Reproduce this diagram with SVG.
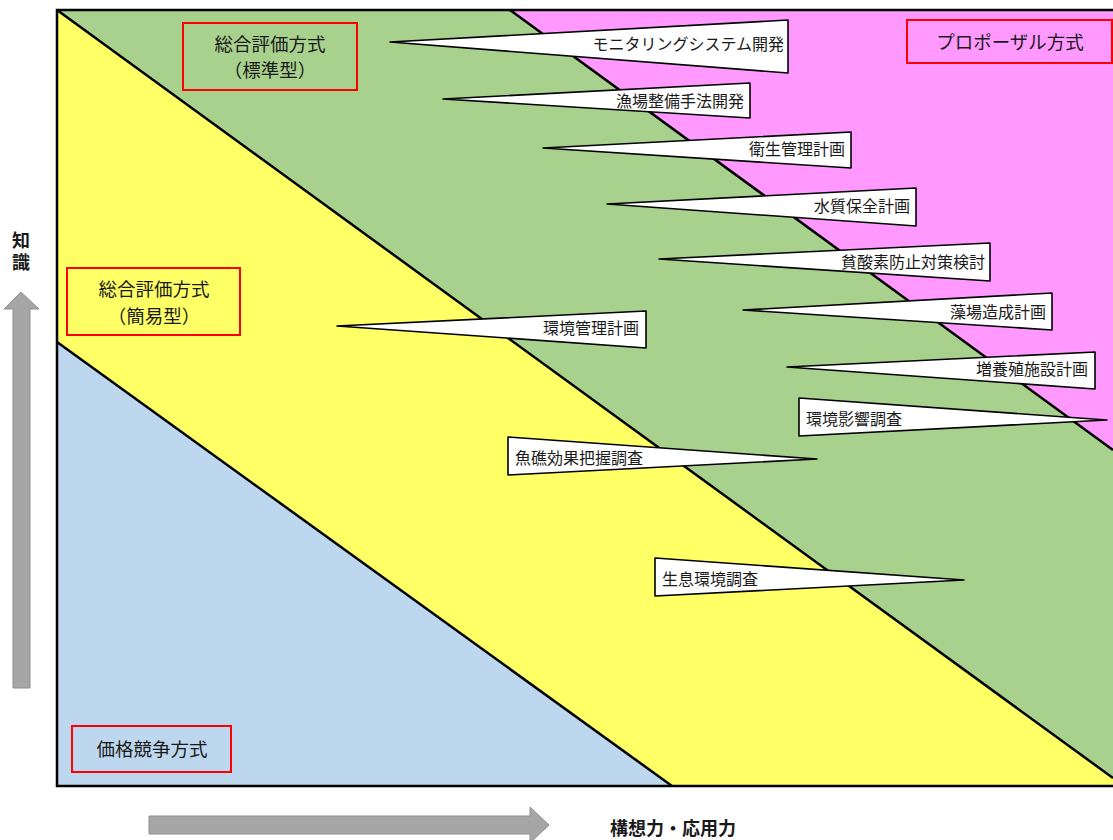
<svg xmlns="http://www.w3.org/2000/svg" width="1113" height="840" viewBox="0 0 1113 840">
<style>
text{font-family:"Noto Sans CJK JP","Noto Sans",sans-serif;fill:#1a1a1a}
.zone{stroke:none}
.div{stroke:#000;stroke-width:2.5;fill:none}
.co{fill:#fff;stroke:#000;stroke-width:1.6;stroke-linejoin:round}
.ct{font-size:16px}
.rb{fill:none;stroke:#ff0000;stroke-width:2}
.rt{font-size:18.5px;text-anchor:middle}
.ax{fill:#a6a6a6;stroke:#8f8f8f;stroke-width:1}
.at{font-size:18px;font-weight:bold}
</style>
<rect width="1113" height="840" fill="#fff"/>
<g id="zones">
<polygon class="zone" fill="#ff99ff" points="510,10 1113,10 1113,450"/>
<polygon class="zone" fill="#a9d18e" points="57,10 510,10 1113,450 1113,778"/>
<polygon class="zone" fill="#ffff66" points="57,10 1113,778 1113,786 672,786 57,342"/>
<polygon class="zone" fill="#bdd7ee" points="57,342 672,786 57,786"/>
<line class="div" x1="510" y1="10" x2="1113" y2="450"/>
<line class="div" x1="57" y1="10" x2="1113" y2="778"/>
<line class="div" x1="57" y1="342" x2="672" y2="786"/>
<polyline class="div" points="1113,10 57,10 57,786 1113,786"/>
</g>
<g id="label-standard"><rect class="rb" x="183" y="23" width="174" height="67"/><text class="rt" x="270" y="51">総合評価方式</text><text class="rt" x="270" y="77">（標準型）</text></g>
<g id="label-simple"><rect class="rb" x="67" y="268" width="173" height="67"/><text class="rt" x="154" y="296">総合評価方式</text><text class="rt" x="154" y="323">（簡易型）</text></g>
<g id="label-price"><rect class="rb" x="72" y="726" width="159" height="46"/><text class="rt" x="152" y="756">価格競争方式</text></g>
<g id="label-proposal"><rect class="rb" x="907" y="20" width="205" height="43"/><text class="rt" x="1010" y="49">プロポーザル方式</text></g>
<g id="c1"><polygon class="co" points="390,42 788,20 788,73"/><text class="ct" x="784" y="50" text-anchor="end">モニタリングシステム開発</text></g>
<g id="c2"><polygon class="co" points="443,99 750,83 750,118"/><text class="ct" x="744" y="107" text-anchor="end">漁場整備手法開発</text></g>
<g id="c3"><polygon class="co" points="543,148 851,132 851,168"/><text class="ct" x="845" y="155" text-anchor="end">衛生管理計画</text></g>
<g id="c4"><polygon class="co" points="607,204 916,188 916,226"/><text class="ct" x="910" y="212" text-anchor="end">水質保全計画</text></g>
<g id="c5"><polygon class="co" points="659,259 990,243 990,281"/><text class="ct" x="985" y="268" text-anchor="end">貧酸素防止対策検討</text></g>
<g id="c6"><polygon class="co" points="743,310 1052,293 1052,330"/><text class="ct" x="1046" y="318" text-anchor="end">藻場造成計画</text></g>
<g id="c7"><polygon class="co" points="337,326 646,311 646,348"/><text class="ct" x="639" y="334" text-anchor="end">環境管理計画</text></g>
<g id="c8"><polygon class="co" points="787,367 1095,352 1095,389"/><text class="ct" x="1088" y="375" text-anchor="end">増養殖施設計画</text></g>
<g id="c9"><polygon class="co" points="1107,420 799,398 799,436"/><text class="ct" x="806" y="425">環境影響調査</text></g>
<g id="c10"><polygon class="co" points="817,459 508,437 508,475"/><text class="ct" x="515" y="464">魚礁効果把握調査</text></g>
<g id="c11"><polygon class="co" points="964,580 655,558 655,596"/><text class="ct" x="662" y="585">生息環境調査</text></g>
<g id="connectors">
<polygon class="ax" points="13,688 13,309 4,309 21,292 39,309 30,309 30,688"/>
<polygon class="ax" points="149,816 530,816 530,807 549,825 530,843 530,834 149,834"/>
</g>
<g id="axis-labels">
<text class="at" x="21" y="231" style="writing-mode:vertical-rl;letter-spacing:4px">知識</text>
<text class="at" x="610" y="835">構想力・応用力</text>
</g>
</svg>
